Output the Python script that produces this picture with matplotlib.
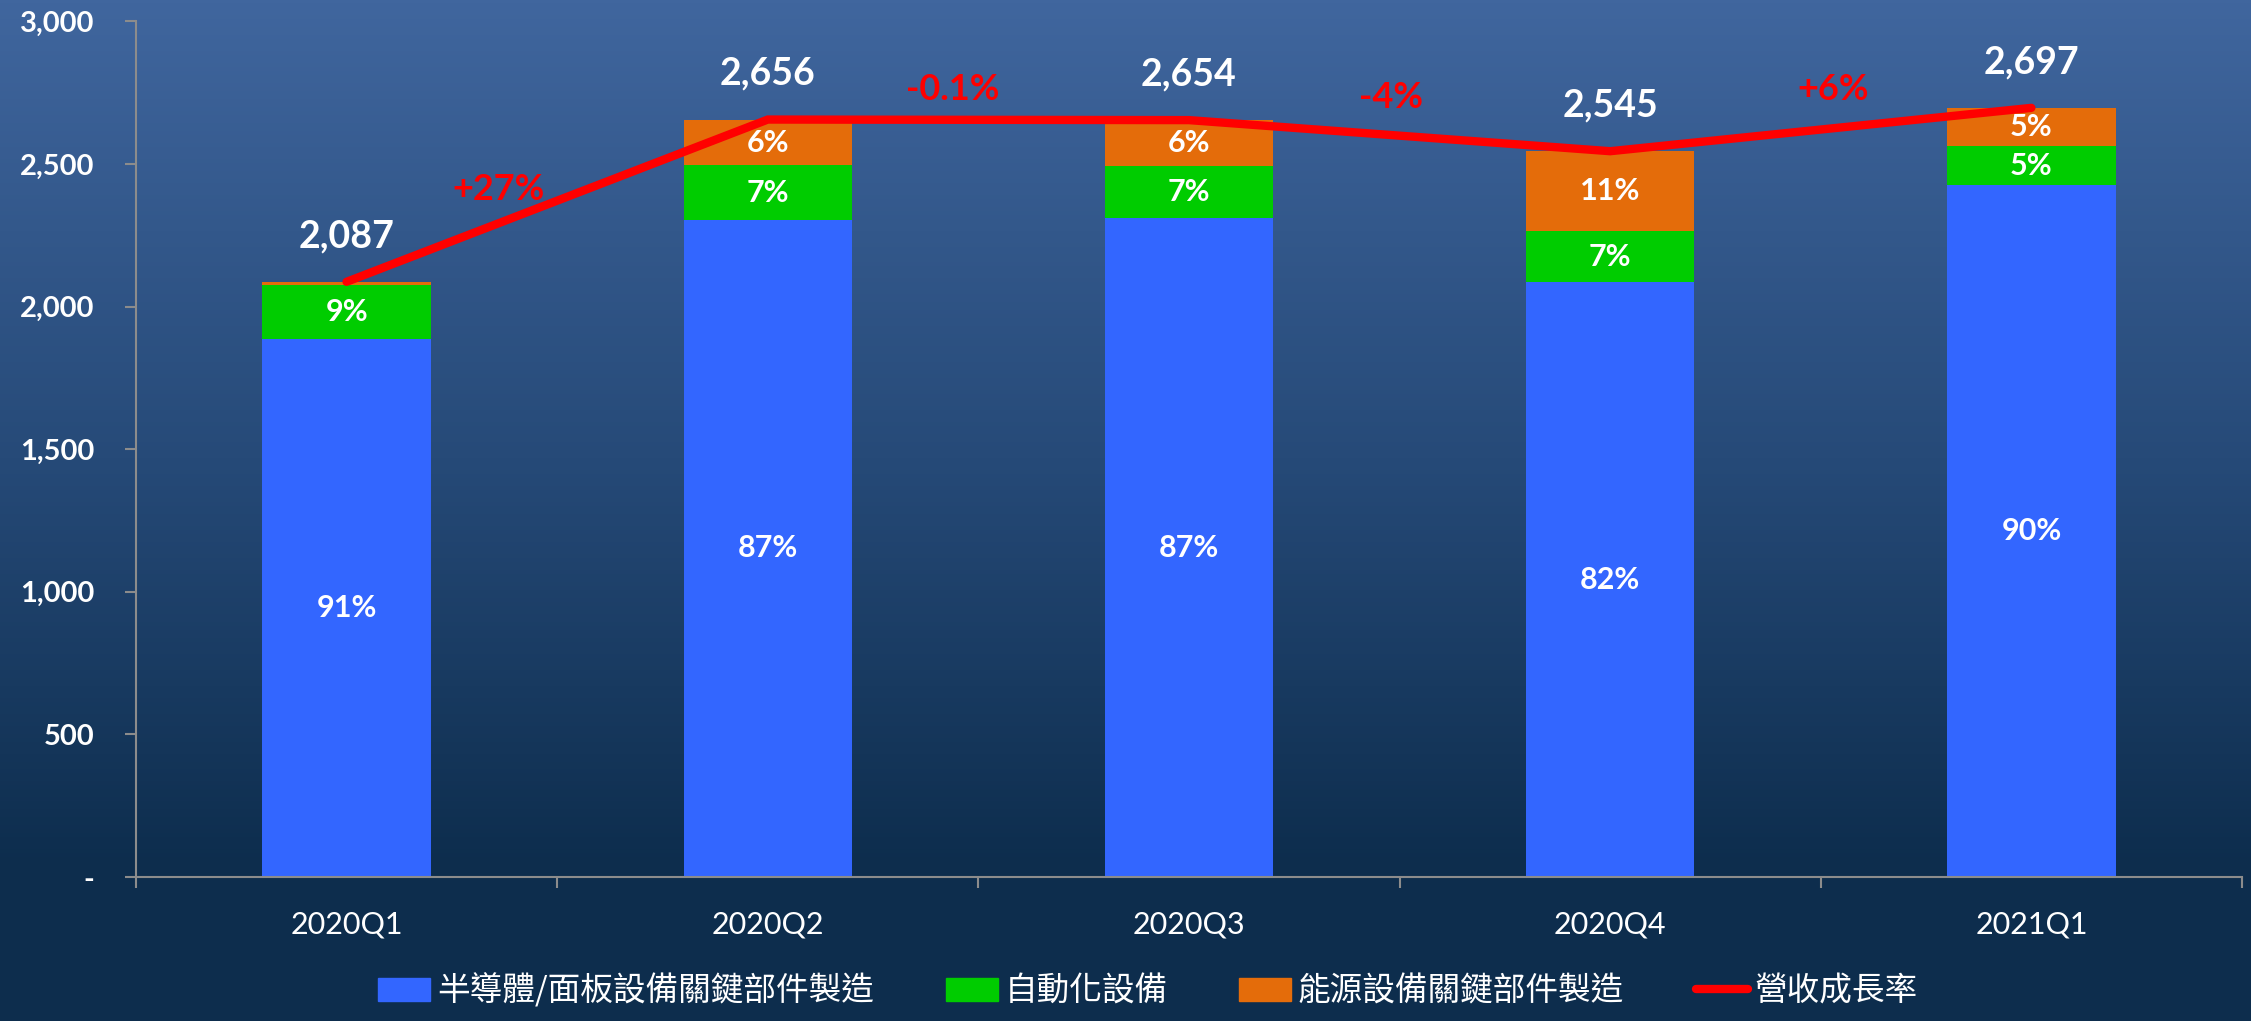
import numpy as np
import matplotlib
matplotlib.use("Agg")
import matplotlib.pyplot as plt
from matplotlib.patches import Patch
from matplotlib.lines import Line2D
from matplotlib.ticker import FuncFormatter, FixedLocator

# data
quarters = ['2020Q1', '2020Q2', '2020Q3', '2020Q4', '2021Q1']
semi = [1888, 2305, 2310, 2085, 2427]      # 半導體/面板設備關鍵部件製造
auto = [188, 190, 184, 180, 135]           # 自動化設備
energy = [11, 161, 160, 280, 135]          # 能源設備關鍵部件製造
totals = [2087, 2656, 2654, 2545, 2697]
semi_pct = ['91%', '87%', '87%', '82%', '90%']
auto_pct = ['9%', '7%', '7%', '7%', '5%']
energy_pct = ['', '6%', '6%', '11%', '5%']
growth = ['+27%', '-0.1%', '-4%', '+6%']

legend_names = ['半導體/面板設備關鍵部件製造', '自動化設備', '能源設備關鍵部件製造', '營收成長率']

c_semi = '#3366FF'
c_auto = '#00CC00'
c_energy = '#E46C0A'
c_line = '#FF0000'

num_font = ['Lato', 'DejaVu Sans']
cjk_font = ['Noto Sans CJK TC', 'DejaVu Sans']

fig = plt.figure(figsize=(22.51, 10.21), dpi=100)

# background gradient standing in for the photo
bg = fig.add_axes([0, 0, 1, 1], zorder=-10)
t = np.linspace(0, 1, 256)[:, None]
top = np.array([0x40, 0x66, 0x9e]) / 255
mid = np.array([0x26, 0x4a, 0x78]) / 255
bot = np.array([0x0d, 0x2d, 0x4d]) / 255
w = np.clip(t / 0.45, 0, 1)
w2 = np.clip((t - 0.45) / 0.4, 0, 1)
grad = np.where(t < 0.45, top + (mid - top) * w, mid + (bot - mid) * w2)
grad = np.repeat(grad[:, None, :], 2, axis=1).reshape(256, 2, 3)
bg.imshow(grad, aspect='auto', extent=[0, 1, 0, 1], origin='upper')
bg.axis('off')

ax = fig.add_axes([0.0604, 0.141, 0.9356, 0.838])
ax.set_facecolor('none')

x = np.arange(len(quarters))
bw = 0.4
b1 = np.array(semi)
b2 = b1 + np.array(auto)
ax.bar(x, semi, bw, color=c_semi, zorder=2)
ax.bar(x, auto, bw, bottom=b1, color=c_auto, zorder=2)
ax.bar(x, energy, bw, bottom=b2, color=c_energy, zorder=2)
ax.plot(x, totals, color=c_line, lw=6, solid_capstyle='round', solid_joinstyle='miter', zorder=3)

for i in range(len(x)):
    ax.text(x[i], semi[i] / 2, semi_pct[i], ha='center', va='center', color='white',
            fontsize=22, fontweight='bold', family=num_font, zorder=4)
    ax.text(x[i], b1[i] + auto[i] / 2, auto_pct[i], ha='center', va='center', color='white',
            fontsize=22, fontweight='bold', family=num_font, zorder=4)
    if energy_pct[i]:
        ax.text(x[i], b2[i] + energy[i] / 2, energy_pct[i], ha='center', va='center', color='white',
                fontsize=22, fontweight='bold', family=num_font, zorder=4)
    ax.text(x[i], totals[i] + 160, f'{totals[i]:,}', ha='center', va='center', color='white',
            fontsize=27, fontweight='bold', family=num_font, zorder=4)

gx = [0.36, 1.44, 2.48, 3.53]
gy = [2410, 2760, 2735, 2760]
for i, g in enumerate(growth):
    ax.text(gx[i], gy[i], g, ha='center', va='center', color=c_line,
            fontsize=26, fontweight='bold', family=num_font, zorder=4)

ax.set_xlim(-0.5, 4.5)
ax.set_ylim(0, 3000)
ax.set_yticks(np.arange(0, 3001, 500))
ax.yaxis.set_major_formatter(FuncFormatter(lambda v, p: '-' if v == 0 else f'{int(v):,}'))
ax.set_xticks(x)
ax.set_xticklabels(quarters)
ax.xaxis.set_minor_locator(FixedLocator(np.arange(-0.5, 4.6, 1)))
ax.tick_params(axis='x', which='major', length=0, pad=24, colors='white', labelsize=22)
ax.tick_params(axis='x', which='minor', length=8, width=1.5, color='#8c8c8c', direction='out')
ax.tick_params(axis='y', length=8, width=1.5, color='#8c8c8c', pad=22, labelcolor='white', labelsize=21)
for lab in ax.get_yticklabels():
    lab.set_fontweight('bold')
    lab.set_family(num_font)
for lab in ax.get_xticklabels():
    lab.set_family(num_font)

for s in ['top', 'right']:
    ax.spines[s].set_visible(False)
for s in ['left', 'bottom']:
    ax.spines[s].set_color('#8c8c8c')
    ax.spines[s].set_linewidth(1.5)

handles = [Patch(color=c_semi), Patch(color=c_auto), Patch(color=c_energy),
           Line2D([0], [0], color=c_line, lw=6, solid_capstyle='round')]
leg = fig.legend(handles, legend_names, loc='center', bbox_to_anchor=(0.51, 0.03), ncol=4,
                 frameon=False, handlelength=1.6, handletextpad=0.2, columnspacing=2.2,
                 prop={'family': cjk_font, 'size': 23.5})
for txt in leg.get_texts():
    txt.set_color('white')

fig.savefig('out.png', dpi=100)
